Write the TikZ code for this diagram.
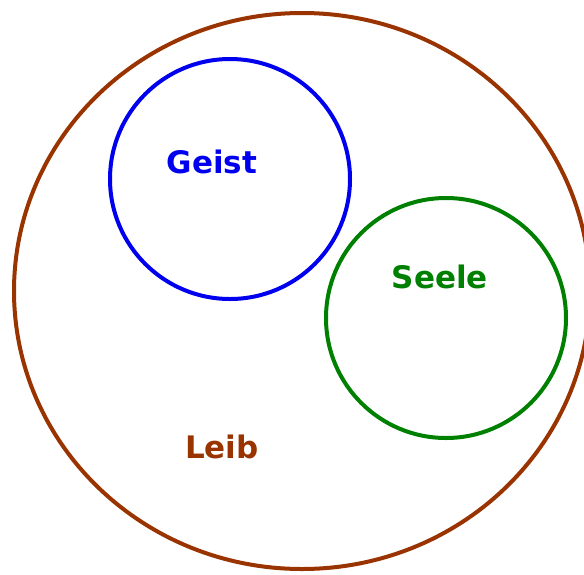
\documentclass[tikz,border=0pt]{standalone}
\usepackage{fontspec}
\setmainfont{DejaVu Sans}
\definecolor{leibc}{RGB}{153,51,0}
\definecolor{geistc}{RGB}{0,0,238}
\definecolor{seelec}{RGB}{0,128,0}
\begin{document}
\begin{tikzpicture}[x=1pt,y=-1pt,
  ring/.style={line width=4pt},
  lbl/.style={font=\bfseries\fontsize{31}{36}\selectfont, anchor=base, inner sep=0pt}]
\useasboundingbox (0,0) rectangle (584,574);
\draw[ring, leibc] (302,291) ellipse [x radius=288, y radius=278];
\draw[ring, geistc] (230,179) circle [radius=120];
\draw[ring, seelec] (446,318) circle [radius=120];
\node[lbl, text=geistc] (geist) at (212,173) {Geist};
\node[lbl, text=seelec] (seele) at (440,288) {Seele};
\node[lbl, text=leibc] (leib) at (222,458) {Leib};
\end{tikzpicture}
\end{document}
